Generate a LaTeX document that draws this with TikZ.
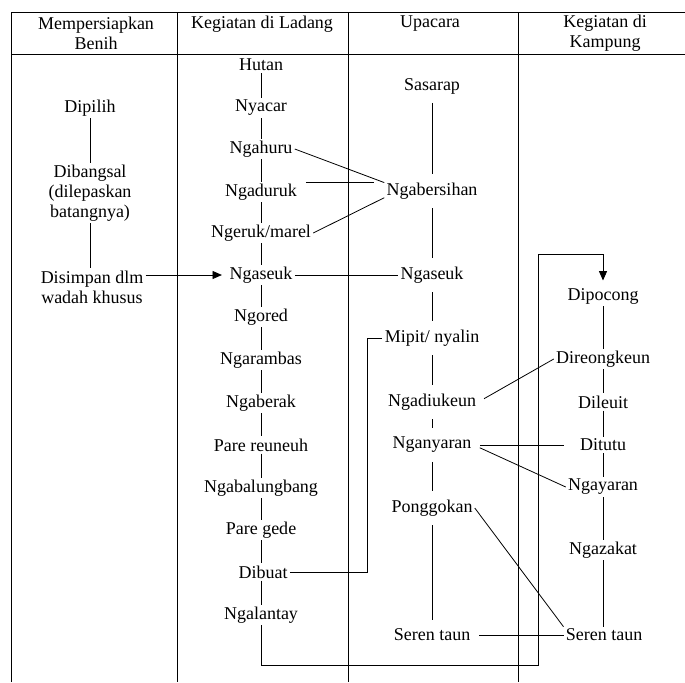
\documentclass[tikz,border=0pt]{standalone}
\usepackage{fontspec}
\setmainfont{Liberation Serif}
\usetikzlibrary{arrows.meta}

\tikzset{
  txt/.style={font=\fontsize{13.5}{15}\selectfont, align=center, inner sep=1.5pt},
  link/.style={line width=0.6pt},
  gaplink/.style={link, shorten <=5pt, shorten >=5pt},
  arr/.style={link, -{Triangle[length=7pt,width=6pt]}}
}

\begin{document}
\begin{tikzpicture}[x=0.75pt,y=-0.75pt]

\useasboundingbox (0,0) rectangle (685,682);

\draw [link] (11,12) -- (685,12);
\draw [link] (11,54) -- (685,54);
\foreach \x in {11,177,348,518}
  \draw [link] (\x,12) -- (\x,682);

\node [txt] (hbenih) at (96,33) {Mempersiapkan\\Benih};
\node [txt] (hladang) at (262,24) {Kegiatan di Ladang};
\node [txt] (hupacara) at (430,24) {Upacara};
\node [txt] (hkampung) at (605,33) {Kegiatan di\\Kampung};

\node [txt] (dipilih) at (90,108) {Dipilih};
\node [txt] (dibangsal) at (90,193) {Dibangsal\\(dilepaskan\\batangnya)};
\node [txt] (disimpan) at (92,287) {Disimpan dlm\\wadah khusus};

\node [txt] (hutan) at (261,65) {Hutan};
\node [txt] (nyacar) at (261,108) {Nyacar};
\node [txt] (ngahuru) at (261,149) {Ngahuru};
\node [txt] (ngaduruk) at (261,192) {Ngaduruk};
\node [txt] (ngeruk) at (261,233) {Ngeruk/marel};
\node [txt] (ngaseuk) at (261,275) {Ngaseuk};
\node [txt] (ngored) at (261,317) {Ngored};
\node [txt] (ngarambas) at (261,360) {Ngarambas};
\node [txt] (ngaberak) at (261,403) {Ngaberak};
\node [txt] (reuneuh) at (261,445) {Pare reuneuh};
\node [txt] (ngabalungbang) at (261,488) {Ngabalungbang};
\node [txt] (paregede) at (261,530) {Pare gede};
\node [txt] (dibuat) at (263,572) {Dibuat};
\node [txt] (ngalantay) at (261,615) {Ngalantay};

\node [txt] (sasarap) at (432,86) {Sasarap};
\node [txt] (ngabersihan) at (432,191) {Ngabersihan};
\node [txt] (upngaseuk) at (432,275) {Ngaseuk};
\node [txt] (mipit) at (432,338) {Mipit/ nyalin};
\node [txt] (ngadiukeun) at (432,402) {Ngadiukeun};
\node [txt] (nganyaran) at (432,445) {Nganyaran};
\node [txt] (ponggokan) at (432,508) {Ponggokan};
\node [txt] (upseren) at (432,635) {Seren taun};

\node [txt] (dipocong) at (603,296) {Dipocong};
\node [txt] (direongkeun) at (603,359) {Direongkeun};
\node [txt] (dileuit) at (603,402) {Dileuit};
\node [txt] (ditutu) at (603,445) {Ditutu};
\node [txt] (ngayaran) at (603,487) {Ngayaran};
\node [txt] (ngazakat) at (603,550) {Ngazakat};
\node [txt] (kseren) at (604,635) {Seren taun};

\draw [link] (dipilih) -- (dibangsal);
\draw [link] (dibangsal) -- (disimpan.north -| dibangsal);

\foreach \a/\b in {hutan/nyacar, nyacar/ngahuru, ngahuru/ngaduruk, ngaduruk/ngeruk,
  ngeruk/ngaseuk, ngaseuk/ngored, ngored/ngarambas, ngarambas/ngaberak,
  ngaberak/reuneuh, reuneuh/ngabalungbang, ngabalungbang/paregede}
  \draw [link] (\a) -- (\b);
\draw [link] (paregede) -- (paregede |- dibuat.north);
\draw [link] (paregede |- dibuat.south) -- (ngalantay);

\foreach \a/\b in {sasarap/ngabersihan, ngabersihan/upngaseuk, upngaseuk/mipit,
  mipit/ngadiukeun, ngadiukeun/nganyaran, nganyaran/ponggokan, ponggokan/upseren}
  \draw [gaplink] (\a) -- (\b);

\foreach \a/\b in {dipocong/direongkeun, direongkeun/dileuit, dileuit/ditutu,
  ditutu/ngayaran, ngayaran/ngazakat}
  \draw [link] (\a) -- (\b);
\draw [link] (ngazakat) -- (ngazakat |- kseren.north);

\draw [arr, shorten >=4pt] (disimpan.east |- ngaseuk) -- (ngaseuk.west);

\draw [link] (ngahuru.east) -- (ngabersihan.170);
\draw [link, shorten <=5pt] (ngaduruk.east |- ngabersihan.170) -- ([xshift=-8pt]ngabersihan.170);
\draw [link] (ngeruk.east) -- (ngabersihan.188);
\draw [link] (ngaseuk.east) -- (upngaseuk.west);

\coordinate (brk) at (367,572);
\draw [link] (dibuat.east) -- (brk) |- (mipit.west);

\draw [link, shorten <=5pt] (ngadiukeun.east) -- (direongkeun.west);
\draw [link, shorten <=5pt, shorten >=10pt] (nganyaran.east) -- (ditutu.west);
\draw [link, shorten <=5pt] (nganyaran.east) -- (ngayaran.west);
\draw [link] (ponggokan.east) -- (kseren.north west);
\draw [link, shorten <=5pt] (upseren.east) -- (kseren.west);

\coordinate (loopbot) at (538,665);
\coordinate (looptop) at (538,254);
\draw [arr, shorten >=4pt] (ngalantay.south) |- (loopbot) -- (looptop) -| (dipocong.north);

\end{tikzpicture}
\end{document}
